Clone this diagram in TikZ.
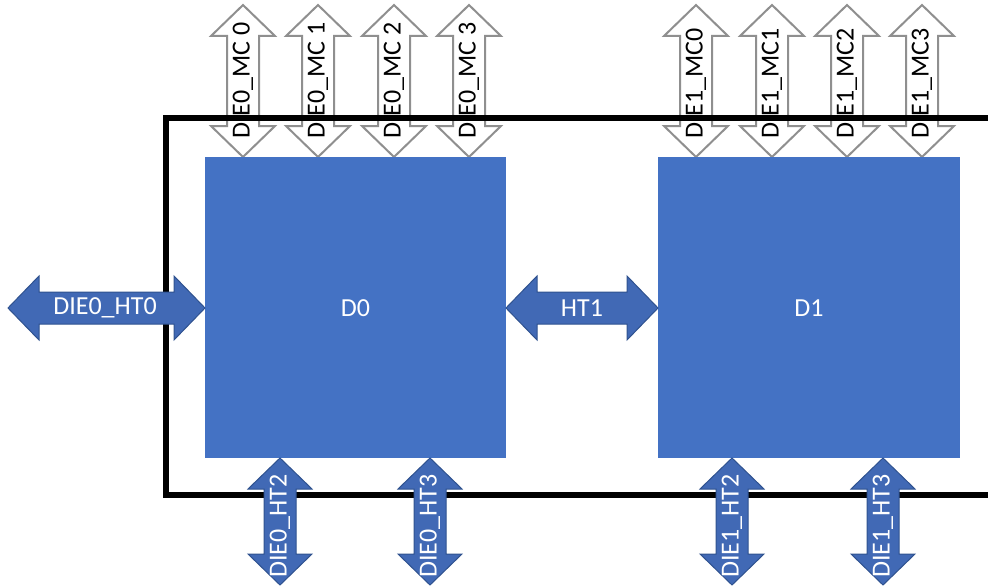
\documentclass[tikz,border=0pt]{standalone}
\usepackage{fontspec}
\setmainfont{Carlito}
\definecolor{boxblue}{HTML}{4472C4}
\definecolor{arrblue}{HTML}{4169B5}
\definecolor{arredge}{HTML}{2F528F}
\definecolor{mcgray}{HTML}{8F8F8F}
\newcommand\myHArrow[4]{%
  \draw[#4] (#1,#3) -- (#1+31,#3-32) -- (#1+31,#3-16) -- (#2-31,#3-16) -- (#2-31,#3-32) -- (#2,#3)
    -- (#2-31,#3+32) -- (#2-31,#3+16) -- (#1+31,#3+16) -- (#1+31,#3+32) -- cycle;}
\newcommand\myVArrow[4]{%
  \draw[#4] (#3,#1) -- (#3+32,#1+31) -- (#3+16,#1+31) -- (#3+16,#2-31) -- (#3+32,#2-31) -- (#3,#2)
    -- (#3-32,#2-31) -- (#3-16,#2-31) -- (#3-16,#1+31) -- (#3-32,#1+31) -- cycle;}
\tikzset{
  mcarrow/.style={draw=mcgray, line width=2pt, fill=white, line join=miter},
  htarrow/.style={draw=arredge, line width=1pt, fill=arrblue, line join=miter},
  die/.style={fill=boxblue, draw=none},
  lbl/.style={font=\fontsize{26}{30}\selectfont, inner sep=0pt},
  mclbl/.style={lbl, text=black, rotate=90, anchor=west},
  htlbl/.style={lbl, text=white},
}
\begin{document}
\begin{tikzpicture}[x=1pt,y=-1pt]
\useasboundingbox (0,0) rectangle (988,586);
% top memory-channel arrows
\foreach \x/\n/\t in {243/a/DIE0\_MC 0,318/b/DIE0\_MC 1,394/c/DIE0\_MC 2,469/d/DIE0\_MC 3,
                      696/e/DIE1\_MC0,772/f/DIE1\_MC1,847/g/DIE1\_MC2,922/h/DIE1\_MC3}{
  \myVArrow{5}{157}{\x}{mcarrow}
  \node[mclbl] (mc\n) at (\x,139) {\t};
}
% outer frame
\draw[line width=5.5pt] (1000,118) -- (166,118) -- (166,495) -- (1000,495);
% dies
\fill[boxblue] (205,157) rectangle (506,458);
\fill[boxblue] (658,157) rectangle (960,458);
\node[htlbl] (d0) at (355.5,308) {D0};
\node[htlbl] (d1) at (809,308) {D1};
% horizontal HT arrows
\myHArrow{8}{205}{308}{htarrow}
\node[htlbl] (ht0) at (105,308) {DIE0\_HT0};
\myHArrow{506}{658}{308}{htarrow}
\node[htlbl] (ht1) at (582,308) {HT1};
% bottom HT arrows
\foreach \x/\n/\t in {280/a/DIE0\_HT2,430/b/DIE0\_HT3,732/c/DIE1\_HT2,883/d/DIE1\_HT3}{
  \myVArrow{458}{585}{\x}{htarrow}
  \node[htlbl, rotate=90] (bt\n) at (\x,526) {\t};
}
\end{tikzpicture}
\end{document}
